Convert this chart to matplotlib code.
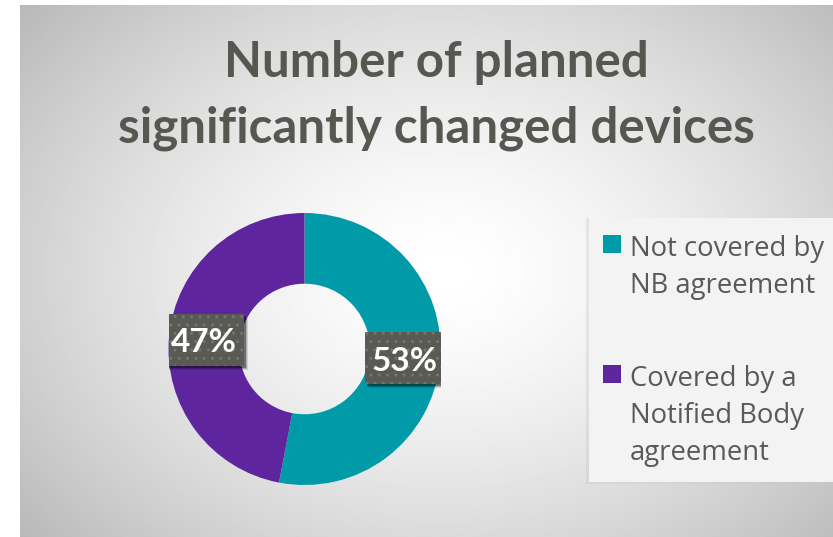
import numpy as np
import matplotlib
matplotlib.use("Agg")
import matplotlib.pyplot as plt
from matplotlib.patches import Rectangle
import matplotlib.patheffects as pe
import matplotlib.transforms as mtransforms

# ---- data ----
title_lines = ["Number of planned", "significantly changed devices"]
categories = ["Not covered by\nNB agreement", "Covered by a\nNotified Body\nagreement"]
values = [53, 47]
colors = ["#009AA8", "#5E259F"]

W, H = 833, 537
fig = plt.figure(figsize=(W / 100, H / 100), dpi=100)
fig.patch.set_facecolor("white")


def fx(px):
    return px / W


def fy(py):
    return 1 - py / H


class SoftShadow(pe.AbstractPathEffect):
    """Offset shadow without hatch."""

    def __init__(self, offset=(3, -3), alpha=0.3, layers=3):
        super().__init__(offset)
        self.alpha = alpha
        self.layers = layers

    def draw_path(self, renderer, gc, tpath, affine, rgbFace):
        for k in range(self.layers):
            gc0 = renderer.new_gc()
            gc0.copy_properties(gc)
            gc0.set_hatch(None)
            gc0.set_linewidth(0)
            gc0.set_foreground((0, 0, 0, 0))
            s = 1 + 0.5 * k
            off = mtransforms.Affine2D().translate(self._offset[0] * s, self._offset[1] * s)
            renderer.draw_path(gc0, tpath, affine + off,
                               (0, 0, 0, self.alpha / (k + 1)))
            gc0.restore()


# background radial gradient (chart area)
bg = fig.add_axes([fx(20), 0, 1 - fx(20), 1 - 5 / H])
bg.set_axis_off()
ny, nx = 266, 406
yy, xx = np.mgrid[0:ny, 0:nx]
cx, cy = nx * 0.52, ny * 0.50
r = np.sqrt(((xx - cx) / (nx * 0.55)) ** 2 + ((yy - cy) / (ny * 0.62)) ** 2)
grad = 1.0 - 0.20 * np.clip(r, 0, 1.3) ** 1.5
bg.imshow(grad, cmap="gray", vmin=0, vmax=1, aspect="auto", extent=[0, 1, 0, 1],
          origin="upper", interpolation="bilinear")
bg.set_xlim(0, 1)
bg.set_ylim(0, 1)

# legend box with faint shadow
fig.patches.append(Rectangle((fx(586), fy(484)), 1, 266 / H, transform=fig.transFigure,
                             facecolor="#c8c8c8", alpha=0.35, edgecolor="none", zorder=1))
fig.patches.append(Rectangle((fx(589), fy(482)), 1, 264 / H, transform=fig.transFigure,
                             facecolor="#f3f3f3", edgecolor="none", zorder=2))

# title
title_color = "#575752"
for line, base in zip(title_lines, [77, 142]):
    fig.text(fx(436), fy(base), line, ha="center", va="baseline", fontsize=35.5,
             fontweight="bold", color=title_color, family="Lato")

# donut
cxp, cyp, R = 304.5, 349, 136
ax = fig.add_axes([fx(cxp - R), fy(cyp + R), 2 * R / W, 2 * R / H])
ring = 0.52
wedges, _ = ax.pie(values, colors=colors, startangle=90, counterclock=False,
                   wedgeprops=dict(width=ring, edgecolor="none"), radius=1)
ax.set_xlim(-1, 1)
ax.set_ylim(-1, 1)
ax.set_aspect("equal")
ax.set_axis_off()

total = sum(values)
box_w, box_h = 79, 52
for w, v in zip(wedges, values):
    ang = np.deg2rad((w.theta1 + w.theta2) / 2)
    rr = 1 - ring / 2
    x, y = rr * np.cos(ang), rr * np.sin(ang)
    lab = f"{round(100 * v / total)}%"
    tr = mtransforms.ScaledTranslation(x, y, ax.transData)
    box = Rectangle((-box_w / 2, -box_h / 2), box_w, box_h, transform=tr,
                    facecolor="#5A5A55", edgecolor="#75756f", linewidth=0.0,
                    hatch="..", zorder=5)
    box.set_path_effects([SoftShadow(offset=(2, -2), alpha=0.35), pe.Normal()])
    ax.add_artist(box)
    ax.text(x, y - 0.005, lab, ha="center", va="center_baseline", fontsize=24, fontweight="bold",
            color="white", family="Lato", zorder=6)

# legend (manual layout)
legend_color = "#595959"
first_baselines = [256, 386]
for cat, col, b in zip(categories, colors, first_baselines):
    fig.patches.append(Rectangle((fx(603), fy(b - 3)), 18 / W, 18 / H, transform=fig.transFigure,
                                 facecolor=col, edgecolor="none", zorder=3))
    for i, line in enumerate(cat.split("\n")):
        fig.text(fx(630), fy(b + 37 * i), line, ha="left", va="baseline", fontsize=19.8,
                 color=legend_color, family="Open Sans", zorder=4)

fig.savefig("out.png", dpi=100, facecolor=fig.get_facecolor())
